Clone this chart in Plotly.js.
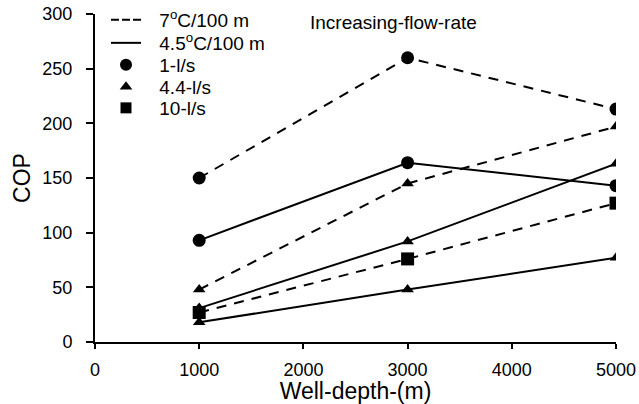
<!DOCTYPE html>
<html>
<head>
<meta charset="utf-8">
<script src="https://cdn.plot.ly/plotly-3.0.1.min.js"></script>
<style>html,body{margin:0;padding:0;background:#fff;}#chart{width:639px;height:404px;}</style>
</head>
<body>
<div id="chart"></div>
<script>
// Data
const depth = [1000, 3000, 5000];
const cop7_1 = [150, 260, 213];    // 7ºC/100 m, 1 l/s
const cop45_1 = [93, 164, 143];    // 4.5ºC/100 m, 1 l/s
const cop7_44 = [48, 145, 197];    // 7ºC/100 m, 4.4 l/s
const cop45_44 = [31, 92, 163];    // 4.5ºC/100 m, 4.4 l/s
const cop7_10 = [27, 76, 127];     // 7ºC/100 m, 10 l/s
const cop45_10 = [18, 48, 77];     // 4.5ºC/100 m, 10 l/s (drawn with triangles in the original)
const legendLabels = ['7<sup>o</sup>C/100 m', '4.5<sup>o</sup>C/100 m', '1-l/s', '4.4-l/s', '10-l/s'];
const xTicks = [0, 1000, 2000, 3000, 4000, 5000];
const yTicks = [0, 50, 100, 150, 200, 250, 300];
const noteText = 'Increasing-flow-rate';
const xTitle = 'Well-depth-(m)';
const yTitle = 'COP';

const FONT = 'Liberation Sans, Arial, sans-serif';
const dashData = '10px,8px';
const LEG_PAD = '\u2002\u2009'; // small gap between legend symbol and label, as in the original

function series(y, dash, symbol, size) {
  return {
    x: depth, y: y, type: 'scatter', mode: 'lines+markers', showlegend: false,
    line: {color: '#000', width: 2, dash: dash},
    marker: {color: '#000', symbol: symbol, size: size}
  };
}

const traces = [
  series(cop7_1, dashData, 'circle', 13),
  series(cop45_1, 'solid', 'circle', 13),
  series(cop7_44, dashData, 'triangle-up', 11),
  series(cop45_44, 'solid', 'triangle-up', 11),
  series(cop7_10, dashData, 'square', 13),
  series(cop45_10, 'solid', 'triangle-up', 11)
];

// legend-only entries, each in its own legend so the spacing matches
const legendDefs = [
  {mode: 'lines', line: {color: '#000', width: 2, dash: '8px,3px'}},
  {mode: 'lines', line: {color: '#000', width: 2, dash: 'solid'}},
  {mode: 'markers', marker: {color: '#000', symbol: 'circle', size: 12}},
  {mode: 'markers', marker: {color: '#000', symbol: 'triangle-up', size: 11}},
  {mode: 'markers', marker: {color: '#000', symbol: 'square', size: 11}}
];
const legendIds = ['legend', 'legend2', 'legend3', 'legend4', 'legend5'];
const legendY = [20, 43, 65, 87, 108];

const plotTop = 14, plotBottom = 342, plotLeft = 95, plotRight = 616;
const layout = {
  width: 639, height: 404,
  margin: {l: plotLeft, r: 639 - plotRight, t: plotTop, b: 404 - plotBottom, pad: 0, autoexpand: false},
  paper_bgcolor: '#fff', plot_bgcolor: '#fff',
  font: {family: FONT, color: '#000', size: 18},
  xaxis: {
    range: [0, 5000], tickvals: xTicks, ticktext: xTicks.map(String),
    showline: true, linewidth: 2, linecolor: '#000', mirror: false,
    ticks: 'outside', ticklen: 5, tickwidth: 2, tickcolor: '#000',
    ticklabelstandoff: 5,
    showgrid: false, zeroline: false,
    tickfont: {family: FONT, size: 18, color: '#000'},
    title: {text: xTitle, font: {family: FONT, size: 23, color: '#000'}, standoff: 6}
  },
  yaxis: {
    range: [0, 300], tickvals: yTicks, ticktext: yTicks.map(String),
    showline: true, linewidth: 2, linecolor: '#000',
    ticks: 'outside', ticklen: 7, tickwidth: 2, tickcolor: '#000',
    ticklabelstandoff: 10,
    showgrid: false, zeroline: false,
    tickfont: {family: FONT, size: 18, color: '#000'},
    title: {text: yTitle, font: {family: FONT, size: 23, color: '#000'}, standoff: 5}
  },
  annotations: [{
    text: noteText, xref: 'paper', yref: 'paper',
    x: (308 - plotLeft) / (plotRight - plotLeft), y: (plotBottom - 22) / (plotBottom - plotTop),
    xanchor: 'left', yanchor: 'middle', showarrow: false,
    font: {family: FONT, size: 19, color: '#000'}
  }]
};

legendDefs.forEach(function (d, i) {
  const t = Object.assign({x: [null], y: [null], type: 'scatter', name: LEG_PAD + legendLabels[i], showlegend: true,
    legend: legendIds[i]}, d);
  traces.push(t);
  layout[legendIds[i]] = {
    x: (106 - plotLeft) / (plotRight - plotLeft), xanchor: 'left',
    y: (plotBottom - legendY[i]) / (plotBottom - plotTop), yanchor: 'middle',
    bgcolor: 'rgba(0,0,0,0)', borderwidth: 0, itemwidth: 30,
    font: {family: FONT, size: 19, color: '#000'}
  };
});

Plotly.newPlot('chart', traces, layout, {displayModeBar: false, staticPlot: true});
</script>
</body>
</html>
